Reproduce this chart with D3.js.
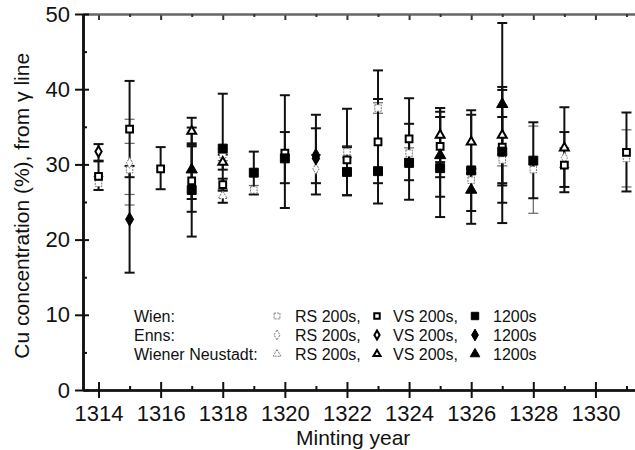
<!DOCTYPE html>
<html><head><meta charset="utf-8">
<script src="https://cdn.jsdelivr.net/npm/d3@7"></script>
<style>
html,body{margin:0;padding:0;background:#fff;}
svg{display:block;font-family:"Liberation Sans",Arial,Helvetica,sans-serif;}
</style></head>
<body><svg id="c" width="635" height="450"></svg>
<script>
// [year, value, low, high]
const wienRS = [[1314,27.5,26.6,28.4],[1315,29.3,26.0,32.8],[1318,31.3,30.5,32.1],[1319,26.6,26.0,27.2],[1322,31.7,30.9,32.5],[1323,37.5,36.8,38.2],[1324,31.5,30.8,32.2],[1326,27.9,26.3,29.5],[1327,30.6,29.8,31.4],[1328,29.3,23.5,35.1],[1331,30.8,27.0,34.6]];
const wienVS = [[1314,28.4,26.6,30.4],[1315,34.7,28.3,41.1],[1316,29.4,26.7,32.3],[1317,27.8,25.4,32.4],[1318,27.3,26.5,28.1],[1320,31.5,27.5,34.3],[1322,30.6,25.9,37.4],[1323,33.0,27.5,38.7],[1324,33.4,27.9,38.8],[1325,32.4,28.3,36.3],[1327,32.3,24.9,39.9],[1329,29.9,26.3,34.3],[1331,31.6,26.4,36.9]];
const wien1200 = [[1317,26.6,20.4,32.8],[1318,32.1,24.9,39.4],[1319,28.9,26.0,31.7],[1320,30.8,24.2,39.2],[1322,29.0,25.9,32.3],[1323,29.1,24.8,42.5],[1324,30.2,25.3,35.4],[1325,29.5,23.0,37.5],[1326,29.2,22.1,36.6],[1327,31.7,22.2,36.3],[1328,30.5,25.5,35.6]];
const ennsRS = [[1315,30.2,24.6,36.0],[1321,29.4,27.5,31.3],[1329,30.9,29.6,32.2]];
const ennsVS = [[1314,31.7,30.5,32.7],[1321,30.8,27.5,34.8]];
const enns1200 = [[1315,22.7,15.6,29.8],[1321,31.2,26.0,36.6]];
const wnRS = [[1318,25.8,24.9,26.7]];
const wnVS = [[1317,34.4,32.6,36.2],[1318,30.3,29.3,31.3],[1325,33.9,30.3,37.5],[1326,33.0,28.8,37.2],[1327,33.9,27.5,40.3],[1329,32.2,27.0,37.6]];
const wn1200 = [[1317,29.3,23.7,34.9],[1325,31.2,25.7,37.0],[1326,26.6,23.8,29.4],[1327,38.0,27.2,48.8]];

const yearTicksMajor = [1314,1316,1318,1320,1322,1324,1326,1328,1330];
const yearTicksMinor = [1315,1317,1319,1321,1323,1325,1327,1329,1331];
const yTicksMajor = [0,10,20,30,40,50];
const yTicksMinor = [5,15,25,35,45];
const mints = ["Wien:","Enns:","Wiener Neustadt:"];
const typeLabels = ["RS 200s,","VS 200s,","1200s"];

const svg = d3.select("#c");
const x = d3.scaleLinear().domain([1313.5,1331.5]).range([83,642]);
const y = d3.scaleLinear().domain([0,50]).range([390,14]);

const shapeFns = {sq:d3.symbolSquare, di:d3.symbolDiamond, tr:d3.symbolTriangle};
const styles = {
  RS:{stroke:"#777", sw:1, fill:"white", dash:"2,1", bar:"#666", barW:1.2},
  VS:{stroke:"#000", sw:2, fill:"white", dash:null, bar:"#111", barW:2},
  F:{stroke:"#000", sw:1, fill:"#000", dash:null, bar:"#111", barW:2}
};
const sizes = {
  RS:{sq:42, di:34, tr:34},
  VS:{sq:46, di:34, tr:34},
  F:{sq:80, di:55, tr:55}
};
const legSizes = {
  RS:{sq:34, di:30, tr:26},
  VS:{sq:30, di:24, tr:22},
  F:{sq:55, di:40, tr:40}
};
const series = [
  {d:wienRS, s:"sq", t:"RS"},{d:ennsRS, s:"di", t:"RS"},{d:wnRS, s:"tr", t:"RS"},
  {d:wienVS, s:"sq", t:"VS"},{d:ennsVS, s:"di", t:"VS"},{d:wnVS, s:"tr", t:"VS"},
  {d:wien1200, s:"sq", t:"F"},{d:enns1200, s:"di", t:"F"},{d:wn1200, s:"tr", t:"F"}
];

// axes
const axG = svg.append("g");
axG.append("g").attr("transform","translate(0,390)").call(d3.axisBottom(x).tickValues(yearTicksMajor).tickSize(8).tickSizeOuter(0).tickPadding(7).tickFormat(d3.format("d")));
axG.append("g").attr("transform","translate(0,390)").call(d3.axisBottom(x).tickValues(yearTicksMajor).tickSize(-8).tickSizeOuter(0).tickFormat(""));
axG.append("g").attr("transform","translate(0,390)").call(d3.axisBottom(x).tickValues(yearTicksMinor).tickSize(-4).tickSizeOuter(0).tickFormat(""));
axG.append("g").attr("class","top").attr("transform","translate(0,14)").call(d3.axisTop(x).tickValues(yearTicksMajor).tickSize(-6).tickSizeOuter(0).tickFormat(""));
axG.append("g").attr("class","top").attr("transform","translate(0,14)").call(d3.axisTop(x).tickValues(yearTicksMinor).tickSize(-3).tickSizeOuter(0).tickFormat(""));
axG.append("g").attr("transform","translate(83,0)").call(d3.axisLeft(y).tickValues(yTicksMajor).tickSize(8).tickSizeOuter(0).tickPadding(5));
axG.append("g").attr("transform","translate(83,0)").call(d3.axisLeft(y).tickValues(yTicksMajor).tickSize(-6).tickSizeOuter(0).tickFormat(""));
axG.append("g").attr("transform","translate(83,0)").call(d3.axisLeft(y).tickValues(yTicksMinor).tickSize(-4).tickSizeOuter(0).tickFormat(""));

axG.selectAll("path.domain").attr("stroke","#111").attr("stroke-width",2.2);
axG.selectAll(".tick line").attr("stroke","#111").attr("stroke-width",2);
axG.selectAll(".top path.domain").attr("stroke","#666");
axG.selectAll(".top .tick line").attr("stroke","#333");
axG.selectAll(".tick text").attr("font-size",22).attr("fill","#111").attr("font-family","Liberation Sans, Arial, sans-serif");

svg.append("text").attr("x",x(1322.2)).attr("y",445).attr("text-anchor","middle")
  .attr("font-size",21).attr("fill","#111").text("Minting year");
svg.append("text").attr("transform",`translate(29,${y(24.5)}) rotate(-90)`).attr("text-anchor","middle")
  .attr("font-size",21).attr("fill","#111").text("Cu concentration (%), from γ line");

// data
const plot = svg.append("g");
series.forEach(se=>{
  const st = styles[se.t];
  const g = plot.append("g");
  se.d.forEach(p=>{
    const cx = x(p[0]);
    g.append("line").attr("x1",cx).attr("x2",cx).attr("y1",y(p[2])).attr("y2",y(p[3]))
      .attr("stroke",st.bar).attr("stroke-width",st.barW);
    [p[2],p[3]].forEach(v=>{
      g.append("line").attr("x1",cx-5).attr("x2",cx+5).attr("y1",y(v)).attr("y2",y(v))
        .attr("stroke",st.bar).attr("stroke-width",st.barW);
    });
  });
});
series.forEach(se=>{
  const st = styles[se.t];
  plot.append("g").selectAll("path").data(se.d).join("path")
    .attr("transform",p=>`translate(${x(p[0])},${y(p[1])})`)
    .attr("d",d3.symbol().type(shapeFns[se.s]).size(sizes[se.t][se.s]))
    .attr("fill",st.fill).attr("stroke",st.stroke).attr("stroke-width",st.sw)
    .attr("stroke-dasharray",st.dash);
});

// legend
const leg = svg.append("g").attr("font-size",16).attr("fill","#111");
const rowY = [322,341,360];
const shapeKeys = ["sq","di","tr"];
const typeKeys = ["RS","VS","F"];
const markX = [277,377,475];
const textX = [295,393,493];
mints.forEach((m,i)=>{
  leg.append("text").attr("x",134).attr("y",rowY[i]).text(m);
  typeKeys.forEach((t,j)=>{
    const st = styles[t];
    const sk = shapeKeys[i];
    leg.append("path").attr("transform",`translate(${markX[j]},${rowY[i]-6})`)
      .attr("d",d3.symbol().type(shapeFns[sk]).size(legSizes[t][sk]))
      .attr("fill",st.fill).attr("stroke",st.stroke).attr("stroke-width",st.sw).attr("stroke-dasharray",st.dash);
    leg.append("text").attr("x",textX[j]).attr("y",rowY[i]).text(typeLabels[j]);
  });
});
</script></body></html>
